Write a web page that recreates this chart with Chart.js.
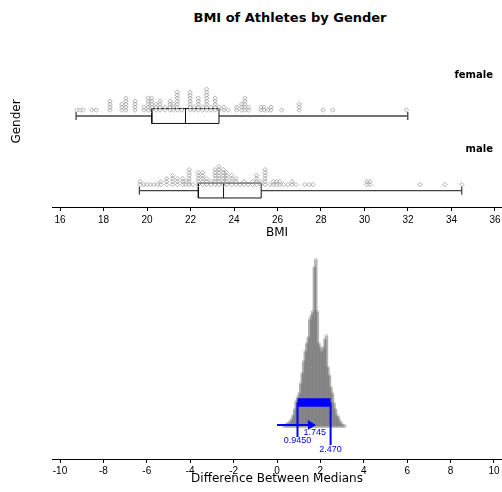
<!DOCTYPE html>
<html>
<head>
<meta charset="utf-8">
<script src="https://cdn.jsdelivr.net/npm/chart.js@4/dist/chart.umd.min.js"></script>
<style>
  html, body { margin: 0; padding: 0; background: #fff; }
  #wrap { position: relative; width: 502px; height: 492px; overflow: hidden; }
  #title { position: absolute; left: 0; top: 9px; width: 580px; text-align: center;
           font: bold 13px "DejaVu Sans"; line-height: 18px; color: #000; }
  #top { position: absolute; left: 0; top: 0; }
  #bottom { position: absolute; left: 0; top: 241px; }
</style>
</head>
<body>
<div id="wrap">
  <div id="title">BMI of Athletes by Gender</div>
  <canvas id="top" width="502" height="241"></canvas>
  <canvas id="bottom" width="502" height="251"></canvas>
</div>
<script>
// categories and tick labels
const groups = ['female', 'male'];
const bmiTicks = [16, 18, 20, 22, 24, 26, 28, 30, 32, 34, 36];
const diffTicks = [-10, -8, -6, -4, -2, 0, 2, 4, 6, 8, 10];

// box plot stats: min, q1, median, q3, max
const femaleBox = [16.74, 20.22, 21.77, 23.31, 31.99];
const maleBox = [19.65, 22.36, 23.52, 25.25, 34.47];

// dot plot columns (BMI value, number of athletes stacked)
const femaleBmi = [16.77, 16.92, 17.07, 17.46, 17.66, 18.30, 18.84, 19.03, 19.45, 19.86, 20.06, 20.21, 20.41, 20.60, 20.83, 21.06, 21.21, 21.39, 21.60, 21.98, 22.16, 22.36, 22.56, 22.74, 22.93, 23.13, 23.32, 23.54, 23.74, 24.12, 24.35, 24.50, 24.66, 25.24, 25.38, 25.56, 25.70, 26.19, 27.00, 28.10, 28.54, 31.93];
const femaleCount = [1, 1, 1, 1, 1, 4, 3, 5, 4, 2, 5, 5, 3, 4, 2, 4, 3, 7, 1, 7, 2, 5, 2, 8, 2, 5, 2, 2, 1, 2, 3, 5, 2, 2, 2, 1, 2, 1, 3, 1, 1, 1];

const maleBmi = [19.68, 19.84, 20.00, 20.16, 20.32, 20.48, 20.64, 20.90, 21.18, 21.40, 21.64, 21.79, 21.94, 22.11, 22.36, 22.56, 22.74, 22.94, 23.13, 23.31, 23.51, 23.66, 23.89, 24.09, 24.28, 24.46, 24.66, 24.86, 25.04, 25.23, 25.43, 25.66, 25.81, 25.96, 26.11, 26.27, 26.48, 26.67, 26.85, 27.26, 27.45, 27.63, 30.11, 30.25, 32.55, 33.70, 34.47];
const maleCount = [2, 1, 1, 1, 1, 1, 2, 3, 4, 3, 3, 2, 6, 1, 5, 5, 3, 2, 6, 7, 6, 5, 4, 3, 1, 2, 1, 2, 4, 2, 6, 1, 2, 2, 2, 1, 1, 2, 1, 1, 1, 1, 2, 2, 1, 1, 1];

// bootstrap distribution of difference between medians
const diffValues = [0.32, 0.39, 0.46, 0.53, 0.60, 0.67, 0.74, 0.81, 0.88, 0.95, 1.02, 1.09, 1.16, 1.23, 1.30, 1.37, 1.44, 1.51, 1.58, 1.65, 1.72, 1.79, 1.86, 1.93, 2.00, 2.07, 2.14, 2.21, 2.28, 2.35, 2.42, 2.49, 2.56, 2.63, 2.70, 2.77, 2.84, 2.91, 2.98, 3.05, 3.12];
const diffCounts = [1, 1, 2, 2, 3, 4, 6, 9, 13, 15, 17, 22, 27, 33, 38, 42, 45, 54, 56, 58, 80, 84, 58, 42, 40, 38, 40, 44, 46, 30, 26, 20, 17, 12, 9, 6, 5, 3, 2, 1, 1];

// confidence interval: low, observed, high
const ciValues = [0.945, 1.745, 2.47];
const ciLabels = ['0.9450', '1.745', '2.470'];

// layout (top panel y units: one unit per group row)
const groupY = { female: 2, male: 1 };
const DOT_BASE = 0.08, DOT_STEP = 0.04, BOX_H = 0.1, CAP_H = 0.055, LABEL_OFF = 0.55;
// layout (bottom panel y units: 2px each)
const D_BASE = 16.5, D_STEP = 1, BAR_Y = 28.25, ARROW_Y = 17;
const LINE_END = [11, 7], CI_TEXT_Y = [9, 13, 4.5];
const BLUE = '#0000ff';

function stackDots(vals, counts, y0, step) {
  const pts = [];
  vals.forEach((v, i) => {
    for (let k = 0; k < counts[i]; k++) pts.push({ x: v, y: y0 + k * step });
  });
  return pts;
}

function whiskers(b, y) {
  const [mn, q1, , q3, mx] = b;
  return [
    { x: mn, y }, { x: q1, y }, { x: q1, y: null },
    { x: q3, y }, { x: mx, y }, { x: mx, y: null },
    { x: mn, y: y - CAP_H }, { x: mn, y: y + CAP_H }, { x: mn, y: null },
    { x: mx, y: y - CAP_H }, { x: mx, y: y + CAP_H }
  ];
}

function box(b, y) {
  const [, q1, md, q3] = b;
  return [
    { x: q1, y: y - BOX_H }, { x: q3, y: y - BOX_H }, { x: q3, y: y + BOX_H },
    { x: q1, y: y + BOX_H }, { x: q1, y: y - BOX_H }, { x: q1, y: null },
    { x: md, y: y - BOX_H }, { x: md, y: y + BOX_H }
  ];
}

const lineSet = (data, color, width, order) => ({
  data, showLine: true, borderColor: color, borderWidth: width,
  pointRadius: 0, pointHoverRadius: 0, fill: false, order
});

const xAxis = (min, max, ticks, title, pad, height) => ({
  type: 'linear', min, max,
  afterBuildTicks: s => { s.ticks = ticks.map(v => ({ value: v })); },
  afterFit: s => { s.paddingLeft = 0; s.paddingRight = 0; s.height = height; },
  ticks: { color: '#000', font: { family: 'Liberation Sans', size: 10, lineHeight: 1 },
           padding: pad, maxRotation: 0, autoSkip: false },
  grid: { drawOnChartArea: false, drawTicks: true, tickLength: 4, color: '#000', tickColor: '#000' },
  border: { display: true, color: '#000', width: 1 },
  title: { display: true, text: title, color: '#000',
           font: { family: 'DejaVu Sans', size: 12, lineHeight: 1 },
           padding: { top: 0, bottom: 0 } }
});

const groupLabels = {
  id: 'groupLabels',
  afterDraw(chart) {
    const { ctx, chartArea, scales } = chart;
    ctx.save();
    ctx.font = 'bold 10px "DejaVu Sans"';
    ctx.fillStyle = '#000';
    ctx.textAlign = 'right';
    ctx.textBaseline = 'middle';
    groups.forEach(g => {
      ctx.fillText(g, chartArea.right - 9, scales.y.getPixelForValue(groupY[g] + LABEL_OFF));
    });
    ctx.restore();
  }
};

new Chart(document.getElementById('top'), {
  type: 'scatter',
  data: {
    datasets: [
      lineSet(box(femaleBox, groupY.female), '#111', 1, 1),
      lineSet(box(maleBox, groupY.male), '#111', 1, 1),
      lineSet(whiskers(femaleBox, groupY.female), '#444', 1.3, 2),
      lineSet(whiskers(maleBox, groupY.male), '#444', 1.3, 2),
      {
        data: stackDots(femaleBmi, femaleCount, groupY.female + DOT_BASE, DOT_STEP),
        pointStyle: 'rectRot', pointRadius: 2.2, borderWidth: 0.8,
        borderColor: '#9c9c9c', backgroundColor: 'rgba(255,255,255,0)', order: 0
      },
      {
        data: stackDots(maleBmi, maleCount, groupY.male + DOT_BASE, DOT_STEP),
        pointStyle: 'rectRot', pointRadius: 2.2, borderWidth: 0.8,
        borderColor: '#9c9c9c', backgroundColor: 'rgba(255,255,255,0)', order: 0
      }
    ]
  },
  options: {
    responsive: false,
    animation: false,
    layout: { autoPadding: false, padding: { left: 0, top: 36, right: 0, bottom: 2.5 } },
    plugins: { legend: { display: false }, tooltip: { enabled: false } },
    scales: {
      x: xAxis(15.632, 36.322, bmiTicks, 'BMI', 4, 31.5),
      y: {
        type: 'linear', min: 0.779, max: 3.074,
        afterFit: s => { s.width = 52; },
        ticks: { display: false },
        grid: { display: false },
        border: { display: false },
        title: { display: true, text: 'Gender', color: '#000',
                 font: { family: 'DejaVu Sans', size: 12 }, padding: { top: 10, bottom: 0 } }
      }
    }
  },
  plugins: [groupLabels]
});

const ciMarks = {
  id: 'ciMarks',
  afterDatasetsDraw(chart) {
    const { ctx, scales: { x, y } } = chart;
    ctx.save();
    // arrow head at the observed difference
    const tip = x.getPixelForValue(ciValues[1]);
    const ay = y.getPixelForValue(ARROW_Y);
    ctx.fillStyle = BLUE;
    ctx.beginPath();
    ctx.moveTo(tip + 1, ay);
    ctx.lineTo(tip - 7, ay - 5);
    ctx.lineTo(tip - 7, ay + 5);
    ctx.closePath();
    ctx.fill();
    // value labels
    ctx.font = '9px "Liberation Sans"';
    ctx.textAlign = 'center';
    ctx.textBaseline = 'middle';
    ciValues.forEach((v, i) => {
      ctx.fillText(ciLabels[i], x.getPixelForValue(v), y.getPixelForValue(CI_TEXT_Y[i]));
    });
    ctx.restore();
  }
};

new Chart(document.getElementById('bottom'), {
  type: 'scatter',
  data: {
    datasets: [
      lineSet([{ x: ciValues[0], y: BAR_Y }, { x: ciValues[2], y: BAR_Y }], BLUE, 8.5, 0),
      lineSet([{ x: ciValues[0], y: BAR_Y }, { x: ciValues[0], y: LINE_END[0] }], BLUE, 2, 0),
      lineSet([{ x: ciValues[2], y: BAR_Y }, { x: ciValues[2], y: LINE_END[1] }], BLUE, 2, 0),
      lineSet([{ x: 0, y: ARROW_Y }, { x: ciValues[1], y: ARROW_Y }], BLUE, 2.2, 0),
      {
        data: stackDots(diffValues, diffCounts, D_BASE, D_STEP),
        pointStyle: 'circle', pointRadius: 1.4, borderWidth: 0.7,
        borderColor: 'rgba(90,90,90,0.6)', backgroundColor: 'rgba(255,255,255,0)', order: 5
      }
    ]
  },
  options: {
    responsive: false,
    animation: false,
    layout: { autoPadding: false, padding: { left: 52, top: 8, right: 0, bottom: 7 } },
    plugins: { legend: { display: false }, tooltip: { enabled: false } },
    scales: {
      x: xAxis(-10.369, 10.369, diffTicks, 'Difference Between Medians', 3, 26),
      y: { type: 'linear', min: 0, max: 105, display: false }
    }
  },
  plugins: [ciMarks]
});
</script>
</body>
</html>
